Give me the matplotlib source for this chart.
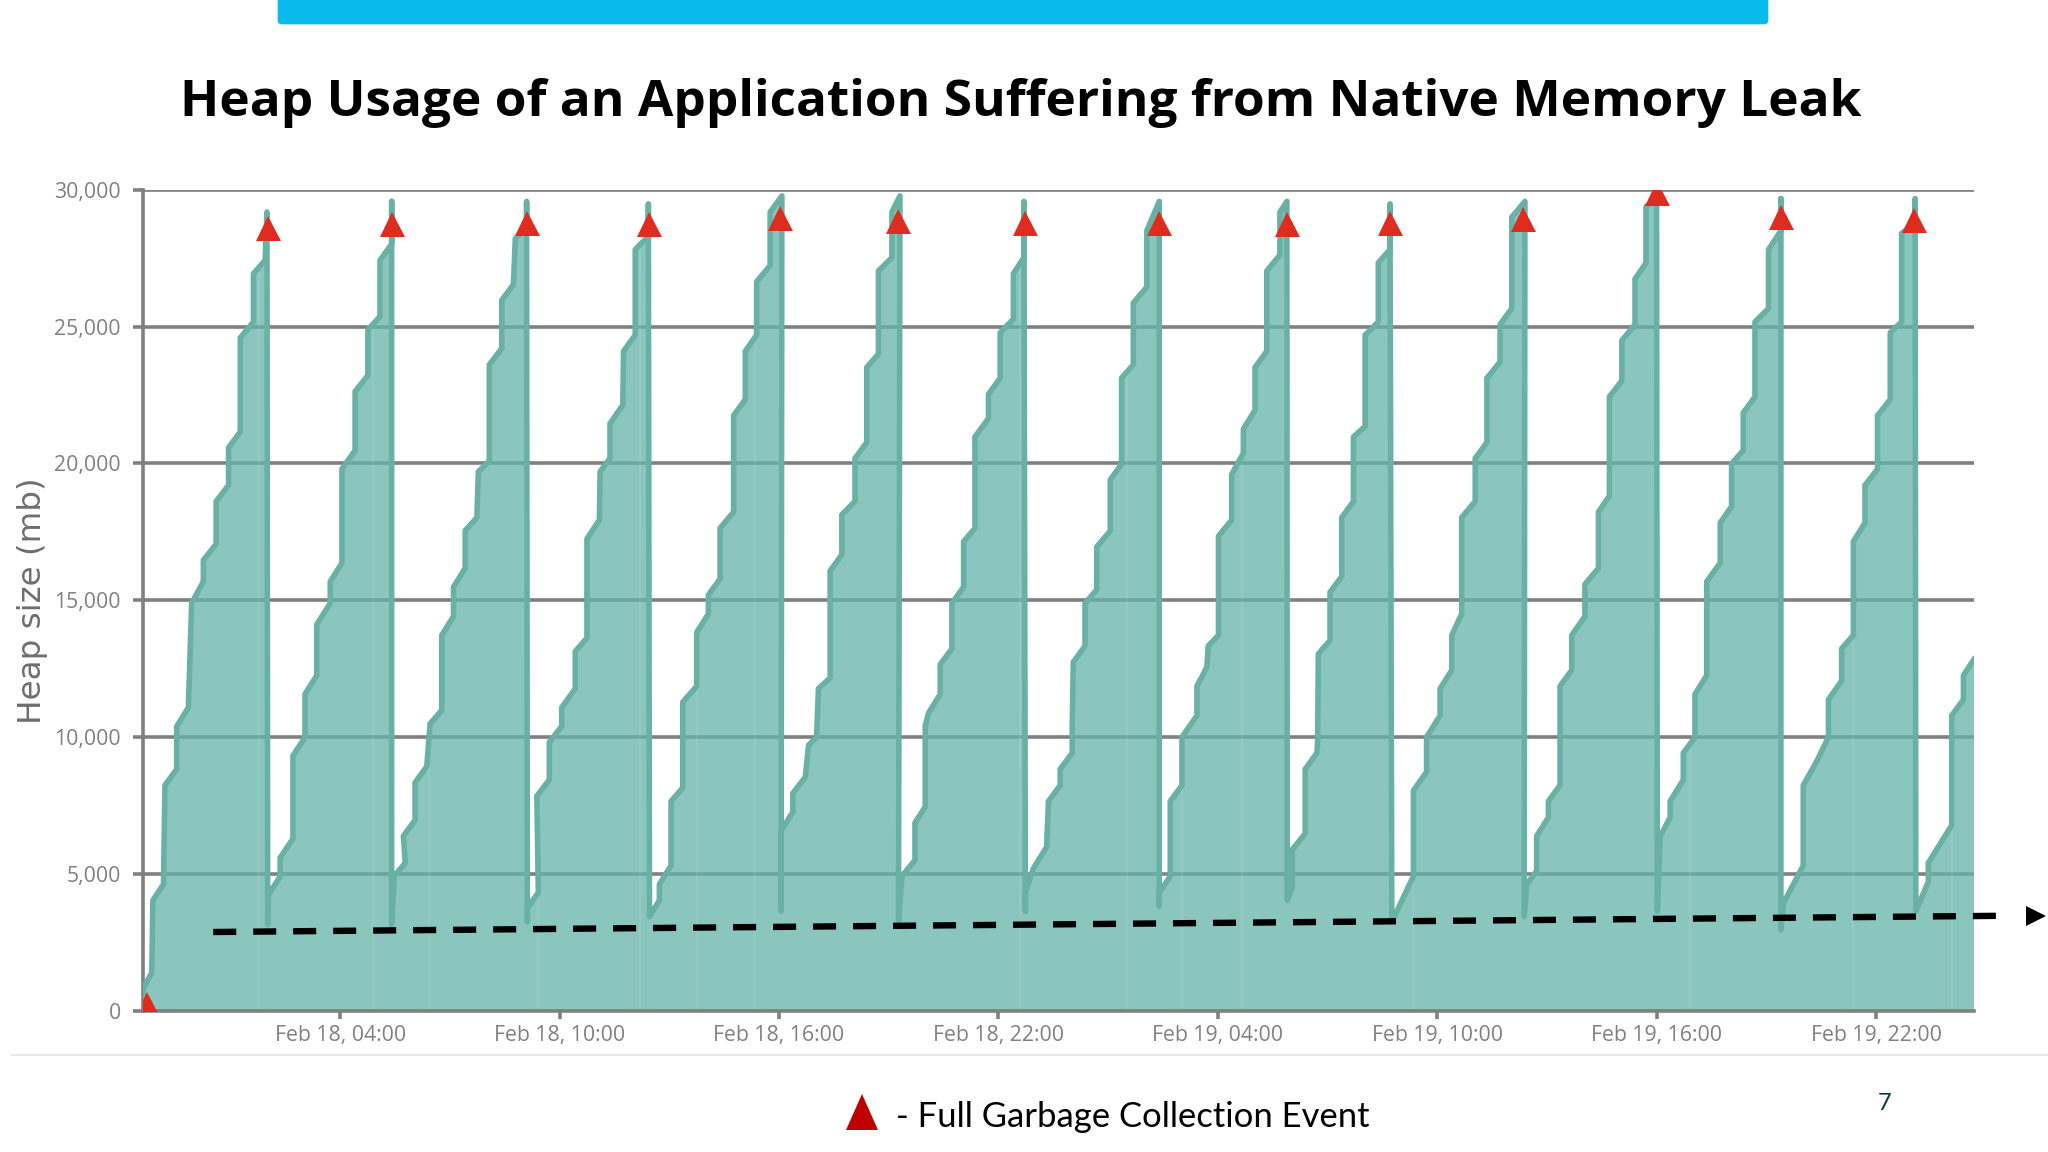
import numpy as np
import matplotlib
matplotlib.use("Agg")
import matplotlib.pyplot as plt
from matplotlib.patches import FancyBboxPatch, Polygon

# hours since Feb 18 00:00, heap size in mb
tooth1_hours = [-1.39,-1.39,-1.15,-1.12,-0.83,-0.79,-0.47,-0.47,-0.15,-0.06,0.26,0.26,0.61,0.61,0.95,0.95,1.27,1.27,1.63,1.63,1.95,2.0]
tooth1_mb = [0,820,1410,4050,4640,8250,8840,10400,11090,14900,15690,16470,17060,18620,19210,20580,21160,24590,25170,26930,27420,29180]
tooth2_hours = [2.02,2.04,2.36,2.36,2.71,2.71,3.04,3.04,3.36,3.36,3.73,3.73,4.05,4.05,4.41,4.41,4.76,4.76,5.09,5.09,5.41,5.41]
tooth2_mb = [3170,4250,4930,5610,6300,9330,10010,11580,12260,14120,14900,15690,16370,19800,20480,22630,23220,24880,25370,27420,28010,29570]
tooth3_hours = [5.41,5.48,5.78,5.73,6.05,6.05,6.37,6.46,6.78,6.78,7.10,7.10,7.42,7.42,7.74,7.78,8.08,8.08,8.42,8.42,8.74,8.79,9.10,9.10]
tooth3_mb = [3170,4930,5420,6400,6980,8350,8940,10500,10990,13730,14420,15490,16180,17550,18030,19700,20090,23610,24200,25960,26540,28210,28600,29570]
tooth4_hours = [9.12,9.12,9.42,9.38,9.72,9.72,10.06,10.06,10.43,10.43,10.75,10.75,11.09,11.11,11.38,11.38,11.73,11.75,12.07,12.07,12.43,12.43]
tooth4_mb = [3270,3760,4340,7860,8450,9820,10410,11090,11780,13140,13630,17250,17940,19700,20190,21460,22140,24100,24690,27810,28300,29480]
tooth5_hours = [12.46,12.73,12.73,13.05,13.05,13.37,13.37,13.75,13.75,14.07,14.07,14.39,14.39,14.76,14.76,15.08,15.08,15.39,15.39,15.76,15.76,16.08]
tooth5_mb = [3460,4050,4640,5320,7670,8160,11290,11870,13830,14510,15200,15790,17640,18230,21750,22340,24100,24690,26640,27230,29180,29770]
tooth6_hours = [16.06,16.06,16.38,16.38,16.72,16.81,17.03,17.08,17.40,17.40,17.72,17.72,18.08,18.08,18.40,18.40,18.72,18.72,19.09,19.09,19.31]
tooth6_mb = [3660,6590,7280,7960,8550,9720,10010,11780,12170,16080,16670,18130,18620,20190,20770,23510,24000,27030,27520,29180,29770]
tooth7_hours = [19.27,19.36,19.72,19.72,20.0,20.0,20.09,20.41,20.41,20.73,20.73,21.05,21.05,21.36,21.36,21.73,21.73,22.05,22.05,22.41,22.41,22.70,22.70]
tooth7_mb = [3170,4930,5520,6880,7470,10410,10890,11580,12660,13240,14900,15490,17150,17640,20970,21650,22530,23120,24780,25270,26930,27520,29570]
tooth8_hours = [22.74,22.74,22.96,23.32,23.37,23.69,23.69,24.02,24.02,24.05,24.37,24.37,24.69,24.69,25.06,25.06,25.37,25.37,25.69,25.69,26.06,26.06,26.40]
tooth8_mb = [3660,4340,5220,6000,7670,8250,8840,9430,10410,12750,13340,14900,15390,16960,17540,19400,19990,23120,23610,25860,26440,28500,29570]
tooth9_hours = [26.40,26.40,26.70,26.70,27.02,27.02,27.43,27.43,27.70,27.74,28.02,28.02,28.38,28.38,28.70,28.70,29.02,29.02,29.34,29.34,29.70,29.70,29.89]
tooth9_mb = [3850,4340,4930,7670,8250,10010,10800,11870,12560,13340,13730,17350,17940,19600,20380,21260,21950,23510,24100,27030,27620,29180,29570]
tooth10_hours = [29.90,30.04,30.04,30.39,30.39,30.71,30.73,30.75,31.07,31.07,31.39,31.39,31.71,31.71,32.03,32.03,32.39,32.39,32.71,32.71]
tooth10_mb = [4050,4540,5910,6490,8840,9430,9820,13050,13540,15300,15880,18030,18620,20970,21360,24690,25170,27330,27810,29480]
tooth11_hours = [32.76,33.35,33.35,33.71,33.71,34.08,34.08,34.40,34.40,34.67,34.67,35.04,35.04,35.36,35.36,35.72,35.72,36.04,36.04,36.40]
tooth11_mb = [3270,4930,8060,8740,10010,10800,11780,12460,13730,14510,18030,18620,20190,20770,23120,23710,25080,25660,28990,29570]
tooth12_hours = [36.38,36.45,36.72,36.72,37.04,37.04,37.36,37.36,37.68,37.68,38.04,38.04,38.41,38.41,38.71,38.71,39.05,39.05,39.41,39.41,39.71,39.71,40.00]
tooth12_mb = [3460,4640,5120,6400,7080,7670,8250,11870,12460,13730,14420,15590,16180,18230,18820,22440,23020,24490,25080,26740,27320,29380,29670]
tooth13_hours = [40.02,40.10,40.37,40.37,40.73,40.73,41.05,41.05,41.37,41.37,41.74,41.74,42.05,42.05,42.37,42.37,42.69,42.69,43.06,43.06,43.40,43.40]
tooth13_mb = [3660,6400,7080,7670,8450,9430,10010,11580,12260,15690,16370,17840,18430,19990,20480,21850,22440,25170,25660,27810,28500,29670]
tooth14_hours = [43.40,43.47,44.01,44.01,44.38,44.70,44.70,45.06,45.06,45.38,45.38,45.70,45.70,46.04,46.04,46.39,46.39,46.70,46.70,47.07,47.07]
tooth14_mb = [2970,3950,5320,8250,9130,10010,11380,12070,13240,13730,17150,17840,19210,19790,21750,22340,24780,25170,28400,28790,29670]
tooth15_hours = [47.09,47.43,47.43,48.07,48.07,48.39,48.39,48.68]
tooth15_mb = [3660,4730,5420,6790,10800,11380,12260,12850]

gc_hours = [-1.29,2.02,5.41,9.12,12.44,16.03,19.25,22.74,26.40,29.89,32.71,36.36,40.02,43.40,47.05]
gc_mb = [255,28580,28730,28790,28730,28970,28870,28790,28790,28730,28790,28910,29890,28990,28890]

trend_hours = [0.53,49.7]
trend_mb = [2895,3490]
arrow_hours = [50.38]
arrow_mb = [3490]

seam_hours = [1.77,4.91,6.44,9.40,12.2,13.75,15.35,22.6,25.51,27.02,28.67,33.35,40.92,45.38,48.07]

x_ticks = [4,10,16,22,28,34,40,46]
x_labels = ["Feb 18, 04:00","Feb 18, 10:00","Feb 18, 16:00","Feb 18, 22:00",
            "Feb 19, 04:00","Feb 19, 10:00","Feb 19, 16:00","Feb 19, 22:00"]
y_ticks = [0,5000,10000,15000,20000,25000,30000]

hours = np.concatenate([tooth1_hours,tooth2_hours,tooth3_hours,tooth4_hours,tooth5_hours,
                        tooth6_hours,tooth7_hours,tooth8_hours,tooth9_hours,tooth10_hours,
                        tooth11_hours,tooth12_hours,tooth13_hours,tooth14_hours,tooth15_hours])
heap = np.concatenate([tooth1_mb,tooth2_mb,tooth3_mb,tooth4_mb,tooth5_mb,
                       tooth6_mb,tooth7_mb,tooth8_mb,tooth9_mb,tooth10_mb,
                       tooth11_mb,tooth12_mb,tooth13_mb,tooth14_mb,tooth15_mb])

W, H = 2048, 1152
GRAY = "#808080"
fig = plt.figure(figsize=(W/100, H/100), dpi=100, facecolor="white")

# page decoration layer, in pixels
deco = fig.add_axes([0,0,1,1], zorder=0)
deco.set_xlim(0,W); deco.set_ylim(H,0); deco.axis("off")
deco.add_patch(FancyBboxPatch((278,-12),1490,36,boxstyle="round,pad=0,rounding_size=4",
                              fc="#08BBEC",ec="#08BBEC",lw=0.5))
deco.plot([12,W],[1055,1055],color="#E4E4E4",lw=1.2)
deco.add_patch(Polygon([[846,1130],[878,1130],[862,1094]],closed=True,fc="#C00000",ec="none"))

left,right,top,bottom = 143,1974,189.6,1011.3
ax = fig.add_axes([left/W,1-bottom/H,(right-left)/W,(bottom-top)/H],zorder=1)
ax.patch.set_alpha(0)
ax.set_xlim(-1.39,48.68); ax.set_ylim(0,30000)

ax.grid(axis="y",color=GRAY,lw=2.6,zorder=1)
ax.set_axisbelow(True)
fill = ax.fill_between(hours,0,heap,facecolor="#65B3AA",alpha=0.76,lw=0,zorder=2)
seams = ax.vlines(seam_hours,0,30000,color="white",alpha=0.10,lw=1.2,zorder=2.2)
seams.set_clip_path(fill.get_paths()[0],fill.get_transform())
ax.plot(hours,heap,color="#69B0A5",lw=4,solid_joinstyle="round",zorder=3)

ax.plot(trend_hours,trend_mb,color="black",lw=4.6,dashes=(3.6,2.66),dash_capstyle="butt",
        clip_on=False,zorder=5)
ax.plot(arrow_hours,arrow_mb,marker=">",color="black",ms=15,mew=0,clip_on=False,zorder=5)
ax.plot(gc_hours,gc_mb,ls="none",marker="^",color="#DE2D1E",ms=18,mew=0,zorder=6)

for s in ("top","right"):
    ax.spines[s].set_visible(False)
for s in ("left","bottom"):
    ax.spines[s].set_color(GRAY); ax.spines[s].set_linewidth(2.6); ax.spines[s].set_zorder(1.5)
ax.spines["bottom"].set_zorder(4)

ax.set_xticks(x_ticks); ax.set_xticklabels(x_labels)
ax.set_yticks(y_ticks); ax.set_yticklabels([f"{v:,}" for v in y_ticks])
ax.tick_params(axis="x",length=6,width=2.6,color=GRAY,labelcolor=GRAY,labelsize=15.3,pad=4)
ax.tick_params(axis="y",length=7,width=2.6,color=GRAY,labelcolor=GRAY,labelsize=15.3,pad=9)
for lab in ax.get_xticklabels()+ax.get_yticklabels():
    lab.set_fontfamily("Open Sans")

fig.text(33/W,1-601/H,"Heap size (mb)",rotation=90,ha="center",va="center",
         color="#6E6E6E",fontsize=23.4,family="DejaVu Sans")
fig.text(1021/W,1-103/H,"Heap Usage of an Application Suffering from Native Memory Leak",
         ha="center",va="center",fontsize=37,fontweight="bold",family="Open Sans",color="black")
fig.text(896/W,1-1117/H,"- Full Garbage Collection Event",ha="left",va="center",
         fontsize=24.9,family="Lato",color="black")
fig.text(1885/W,1-1103/H,"7",ha="center",va="center",fontsize=17,family="Lato",color="#0B3A44")

fig.savefig("out.png",dpi=100)
